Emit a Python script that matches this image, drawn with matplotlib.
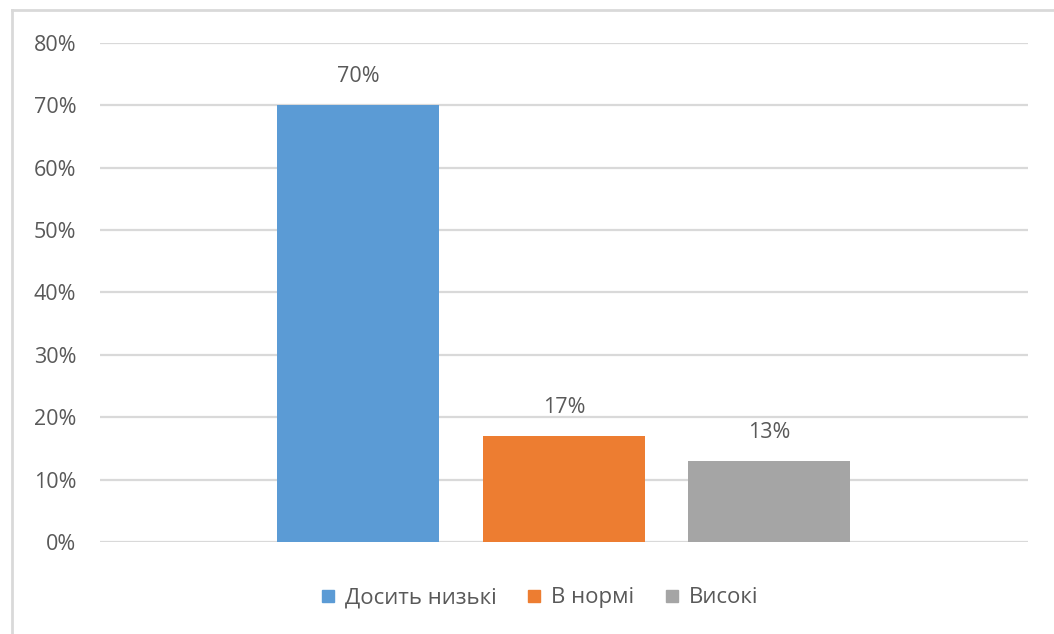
import matplotlib.pyplot as plt
from matplotlib.lines import Line2D
from matplotlib.ticker import PercentFormatter

# Data
series = ['Досить низькі', 'В нормі', 'Високі']
values = [70, 17, 13]
colors = ['#5B9BD5', '#ED7D31', '#A5A5A5']
yticks = [0, 10, 20, 30, 40, 50, 60, 70, 80]

plt.rcParams['font.family'] = ['Open Sans', 'DejaVu Sans']
text_color = '#595959'

fig = plt.figure(figsize=(10.54, 6.34), dpi=100)
ax = fig.add_axes([0.0949, 0.1451, 0.8804, 0.7871])

bar_w = 0.1746
offsets = [-0.222, 0.0, 0.221]
for name, val, col, off in zip(series, values, colors, offsets):
    ax.bar(off, val, width=bar_w, color=col, label=name, zorder=3)
    ax.text(off, val + 4.6, f'{val}%', ha='center', va='center',
            fontsize=15.5, color=text_color)

ax.set_xlim(-0.5, 0.5)
ax.set_ylim(0, 80)
ax.set_yticks(yticks)
ax.yaxis.set_major_formatter(PercentFormatter(decimals=0))
ax.set_xticks([])
ax.grid(axis='y', color='#D9D9D9', linewidth=1.6, zorder=0)
for s in ax.spines.values():
    s.set_visible(False)
ax.tick_params(axis='y', length=0, pad=17, labelsize=15.5, labelcolor=text_color)

# legend
handles = [Line2D([], [], marker='s', linestyle='none', markersize=8,
                  color=c) for c in colors]
fig.legend(handles, series, loc='center', bbox_to_anchor=(0.512, 0.057),
           ncol=3, frameon=False, fontsize=16, labelcolor=text_color,
           handlelength=0.6, handletextpad=0.45, columnspacing=1.4)

# chart border (top and left visible)
fig.add_artist(Line2D([12/1054, 12/1054], [0, 1 - 10/634],
                      color='#D9D9D9', linewidth=2, transform=fig.transFigure))
fig.add_artist(Line2D([12/1054, 1], [1 - 10/634, 1 - 10/634],
                      color='#D9D9D9', linewidth=2, transform=fig.transFigure))

fig.savefig('out.png', dpi=100)
